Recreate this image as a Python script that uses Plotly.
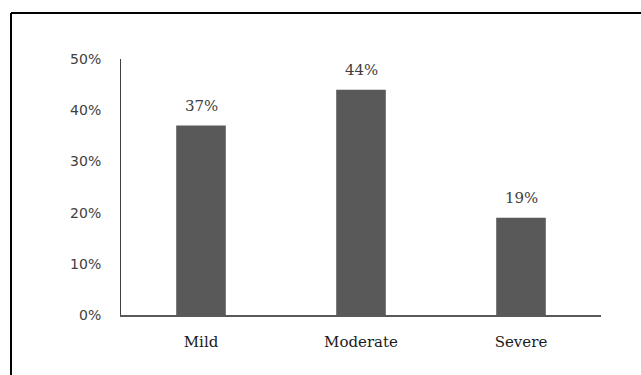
import plotly.graph_objects as go

categories = ["Mild", "Moderate", "Severe"]
values = [0.37, 0.44, 0.19]
tick_vals = [0, 0.1, 0.2, 0.3, 0.4, 0.5]
tick_text = ["0%", "10%", "20%", "30%", "40%", "50%"]

W, H = 641, 375
L, R, T, B = 121, 40, 59, 60
pw, ph = W - L - R, H - T - B

fig = go.Figure()
fig.add_trace(go.Bar(
    x=categories, y=values,
    marker=dict(color="#595959", line=dict(width=0)),
    width=0.31,
    hoverinfo="skip",
))

for c, v in zip(categories, values):
    fig.add_annotation(
        x=c, y=v, text=f"{round(v*100)}%", showarrow=False,
        yanchor="bottom", yshift=9,
        font=dict(family="DejaVu Serif", size=15, color="#404040"),
    )

# outer frame (only top and left visible in the picture)
def px_to_paper_x(px):
    return (px - L) / pw

def px_to_paper_y(py):
    return (H - B - py) / ph

fig.add_shape(type="line", xref="paper", yref="paper",
              x0=px_to_paper_x(11), x1=px_to_paper_x(W + 5),
              y0=px_to_paper_y(13), y1=px_to_paper_y(13),
              line=dict(color="black", width=2))
fig.add_shape(type="line", xref="paper", yref="paper",
              x0=px_to_paper_x(11), x1=px_to_paper_x(11),
              y0=px_to_paper_y(13), y1=px_to_paper_y(H + 5),
              line=dict(color="black", width=2))

fig.update_layout(
    width=W, height=H,
    margin=dict(l=L, r=R, t=T, b=B),
    paper_bgcolor="white", plot_bgcolor="white",
    showlegend=False,
    xaxis=dict(
        showgrid=False, zeroline=False,
        showline=True, linecolor="#595959", linewidth=1.5,
        ticks="", ticklabelstandoff=12,
        tickfont=dict(family="DejaVu Serif", size=15, color="#1a1a1a"),
    ),
    yaxis=dict(
        range=[0, 0.5], showgrid=False, zeroline=False,
        showline=True, linecolor="#404040", linewidth=1,
        ticks="", tickvals=tick_vals, ticktext=tick_text,
        ticklabelstandoff=16,
        tickfont=dict(family="DejaVu Sans", size=14, color="#404040"),
    ),
)

fig.write_html("out.html")
